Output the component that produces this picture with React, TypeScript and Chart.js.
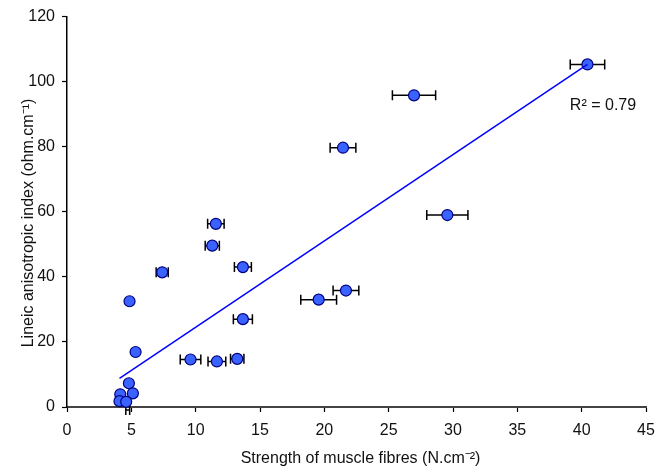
import React, { useEffect, useRef } from "react";
import { Chart, registerables } from "chart.js";

Chart.register(...registerables);

// Data
const strengthX = [40.45, 26.97, 21.45, 29.56, 21.68, 19.56, 11.57, 11.29, 7.4, 13.67, 4.86, 13.67, 5.33, 9.6, 11.65, 13.23, 4.81, 5.12, 4.14, 4.08, 4.6, 4.72];
const anisoY = [105.3, 95.8, 79.7, 59.0, 35.8, 33.0, 56.3, 49.6, 41.4, 43.0, 32.5, 27.0, 16.9, 14.6, 14.0, 14.8, 7.3, 4.2, 3.9, 1.8, 1.6, -0.9];
const strengthErr = [1.34, 1.68, 1.0, 1.6, 1.0, 1.39, 0.64, 0.55, 0.47, 0.66, 0, 0.74, 0, 0.8, 0.69, 0.52, 0, 0, 0, 0, 0, 0.15];
const trendSlope = 2.653;
const trendIntercept = -2.03;
const r2Label = "R\u00B2 = 0.79";
const xTitle = "Strength of muscle fibres (N.cm\u207B\u00B2)";
const yTitle = "Lineic anisotropic index (ohm.cm\u207B\u00B9)";
const xTicksMax = 45;
const yTicksMax = 120;

const FONT = "'Liberation Sans', Arial, Helvetica, sans-serif";

export default function App() {
  const ref = useRef<HTMLCanvasElement | null>(null);

  useEffect(() => {
    if (!ref.current) return;
    const points = strengthX.map((x, i) => ({ x, y: anisoY[i] }));
    const visibleX = strengthX.filter((_, i) => anisoY[i] >= 0);
    const xMin = Math.min(...visibleX);
    const xMax = Math.max(...visibleX);
    const trend = [
      { x: xMin, y: trendSlope * xMin + trendIntercept },
      { x: xMax, y: trendSlope * xMax + trendIntercept },
    ];

    const errorBars = {
      id: "errorBars",
      beforeDatasetDraw(chart: any, args: any) {
        if (args.index !== 1) return;
        const { ctx, scales } = chart;
        const xs = scales.x;
        const ys = scales.y;
        ctx.save();
        ctx.strokeStyle = "#000";
        ctx.lineWidth = 1.5;
        strengthX.forEach((x, i) => {
          const e = strengthErr[i];
          if (!e) return;
          const py = ys.getPixelForValue(anisoY[i]);
          const x1 = xs.getPixelForValue(x - e);
          const x2 = xs.getPixelForValue(x + e);
          ctx.beginPath();
          ctx.moveTo(x1, py);
          ctx.lineTo(x2, py);
          ctx.moveTo(x1, py - 5);
          ctx.lineTo(x1, py + 5);
          ctx.moveTo(x2, py - 5);
          ctx.lineTo(x2, py + 5);
          ctx.stroke();
        });
        ctx.restore();
      },
    };

    const texts = {
      id: "texts",
      afterDraw(chart: any) {
        const { ctx, chartArea } = chart;
        ctx.save();
        ctx.fillStyle = "#111";
        ctx.font = `16px ${FONT}`;
        ctx.textAlign = "center";
        ctx.textBaseline = "middle";
        ctx.fillText(xTitle, (chartArea.left + chartArea.right) / 2 + 4, 459);
        ctx.save();
        ctx.translate(29, 223);
        ctx.rotate(-Math.PI / 2);
        ctx.fillText(yTitle, 0, 0);
        ctx.restore();
        ctx.fillText(r2Label, 603, 106);
        ctx.restore();
      },
    };

    const chart = new Chart(ref.current, {
      type: "scatter",
      data: {
        datasets: [
          {
            type: "line",
            data: trend,
            borderColor: "#0000FF",
            borderWidth: 1.5,
            pointRadius: 0,
            fill: false,
          } as any,
          {
            data: points,
            pointRadius: (c: any) => (c.raw && c.raw.y < 0 ? 0 : 5.5),
            pointBackgroundColor: "#3A62FF",
            pointBorderColor: "#000080",
            pointBorderWidth: 1.2,
            clip: false,
          } as any,
        ],
      },
      options: {
        animation: false,
        responsive: false,
        devicePixelRatio: 1,
        layout: { padding: { left: 0, top: 16, right: 18, bottom: 0 } },
        plugins: { legend: { display: false }, tooltip: { enabled: false } },
        scales: {
          x: {
            type: "linear",
            min: 0,
            max: xTicksMax,
            ticks: { stepSize: 5, color: "#111", font: { family: FONT, size: 16 }, padding: 9, maxRotation: 0 },
            grid: { display: true, drawOnChartArea: false, drawTicks: true, tickLength: 5, color: "#000", tickWidth: 1.2 },
            border: { display: true, color: "#444", width: 2 },
            afterFit: (s: any) => {
              s.height = 63;
            },
          },
          y: {
            type: "linear",
            min: 0,
            max: yTicksMax,
            ticks: { stepSize: 20, color: "#111", font: { family: FONT, size: 16 }, padding: 7 },
            grid: { display: true, drawOnChartArea: false, drawTicks: true, tickLength: 5, color: "#000", tickWidth: 1.2 },
            border: { display: true, color: "#000", width: 1.5 },
            afterFit: (s: any) => {
              s.width = 67;
            },
          },
        },
      },
      plugins: [errorBars, texts],
    });
    return () => chart.destroy();
  }, []);

  return (
    <div style={{ position: "fixed", left: 0, top: 0, width: 664, height: 470, background: "#fff" }}>
      <canvas ref={ref} width={664} height={470} style={{ display: "block" }} />
    </div>
  );
}
